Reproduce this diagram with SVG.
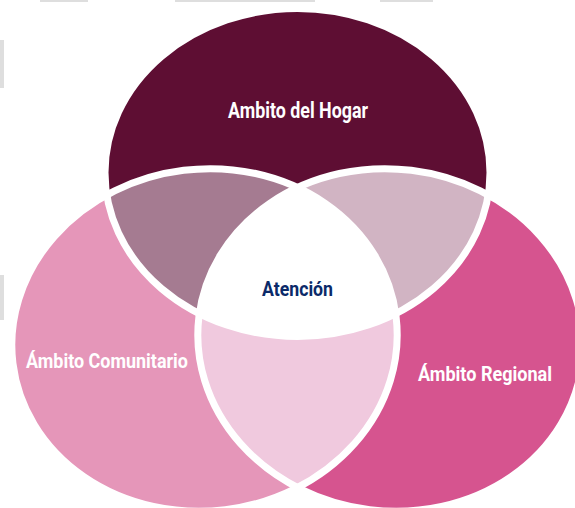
<svg xmlns="http://www.w3.org/2000/svg" width="575" height="508" viewBox="0 0 575 508">
  <style>
    .lbl { font-family: "Roboto", "Liberation Sans", sans-serif; font-weight: 700; fill: #ffffff; }
    .ctr { font-family: "Roboto", "Liberation Sans", sans-serif; font-weight: 700; fill: #0b2a69; }
    .edge { fill: none; stroke: #ffffff; stroke-width: 7; }
    .frame { fill: #dedede; }
  </style>
  <defs>
    <ellipse id="eTop" cx="297.5" cy="172.5" rx="192.5" ry="164"/>
    <ellipse id="eLeft" cx="204.5" cy="340" rx="193" ry="171" transform="rotate(-7 204.5 340)"/>
    <ellipse id="eRight" cx="390.5" cy="340" rx="193" ry="171" transform="rotate(7 390.5 340)"/>
    <clipPath id="cTop"><use href="#eTop"/></clipPath>
    <clipPath id="cLeft"><use href="#eLeft"/></clipPath>
    <clipPath id="cRight"><use href="#eRight"/></clipPath>
  </defs>
  <rect width="575" height="508" fill="#ffffff"/>
  <g id="frame">
    <rect class="frame" x="40" y="0" width="48" height="2"/>
    <rect class="frame" x="175" y="0" width="140" height="2"/>
    <rect class="frame" x="380" y="0" width="53" height="2"/>
    <rect class="frame" x="0" y="40" width="4" height="48"/>
    <rect class="frame" x="0" y="275" width="4" height="45"/>
  </g>
  <g id="node-hogar">
    <use href="#eTop" fill="#5e0e33"/>
  </g>
  <g id="node-comunitario">
    <use href="#eLeft" fill="#e596b9"/>
  </g>
  <g id="node-regional">
    <use href="#eRight" fill="#d6548f"/>
  </g>
  <g id="overlap-hogar-comunitario">
    <use href="#eLeft" fill="#a57b91" clip-path="url(#cTop)"/>
  </g>
  <g id="overlap-hogar-regional">
    <use href="#eRight" fill="#d1b4c3" clip-path="url(#cTop)"/>
  </g>
  <g id="overlap-comunitario-regional">
    <use href="#eRight" fill="#f0c9de" clip-path="url(#cLeft)"/>
  </g>
  <g id="node-atencion">
    <g clip-path="url(#cLeft)">
      <use href="#eRight" fill="#ffffff" clip-path="url(#cTop)"/>
    </g>
  </g>
  <g id="connectors">
    <use href="#eTop" class="edge"/>
    <use href="#eLeft" class="edge"/>
    <use href="#eRight" class="edge"/>
  </g>
  <g id="labels">
    <text class="lbl" x="228" y="118" font-size="22" textLength="140" lengthAdjust="spacingAndGlyphs">Ambito del Hogar</text>
    <text class="ctr" x="262" y="296" font-size="20" textLength="71" lengthAdjust="spacingAndGlyphs">Atención</text>
    <text class="lbl" x="26" y="368" font-size="21" textLength="162" lengthAdjust="spacingAndGlyphs">Ámbito Comunitario</text>
    <text class="lbl" x="418" y="381" font-size="21" textLength="134" lengthAdjust="spacingAndGlyphs">Ámbito Regional</text>
  </g>
</svg>
